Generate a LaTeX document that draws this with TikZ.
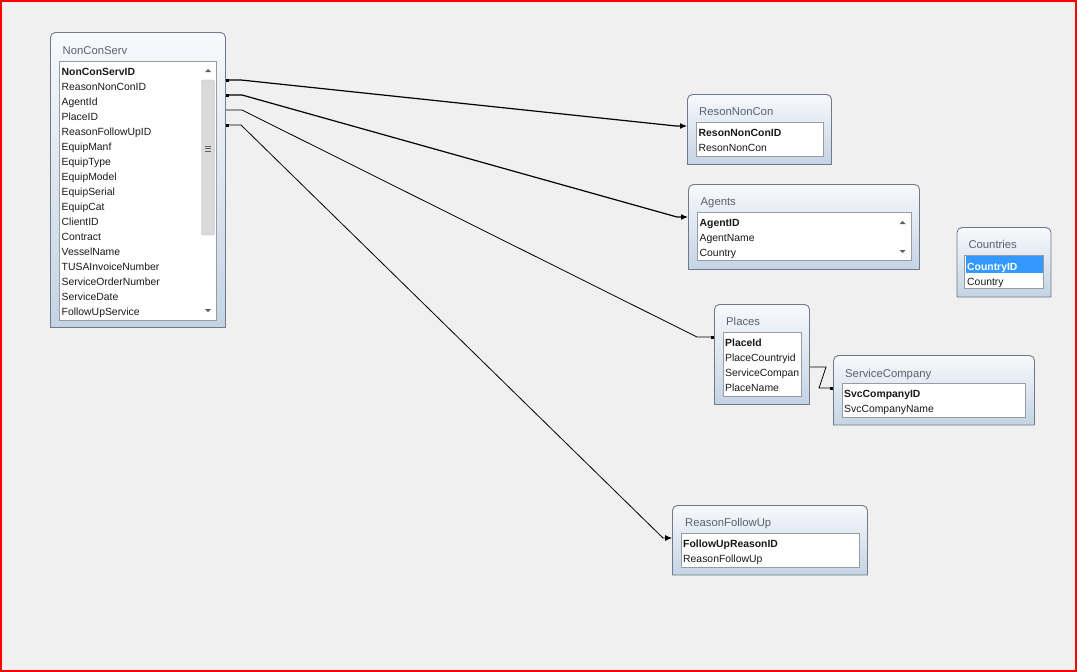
\documentclass[tikz,border=0pt]{standalone}
\usepackage{fontspec}
\setmainfont{Liberation Sans}
\usetikzlibrary{arrows.meta}

\definecolor{canvas}{RGB}{240,240,240}
\definecolor{frame}{RGB}{112,122,134}
\definecolor{headtop}{RGB}{247,249,252}
\definecolor{headbot}{RGB}{196,211,228}
\definecolor{titlegray}{RGB}{88,98,112}
\definecolor{listline}{RGB}{150,156,162}
\definecolor{selblue}{RGB}{51,153,255}
\definecolor{thumbgray}{RGB}{218,218,218}
\definecolor{arrowgray}{RGB}{95,95,95}

\begin{document}
\begin{tikzpicture}[x=1pt,y=-1pt,
  tbl/.style={draw=frame,line width=0.9,top color=headtop,bottom color=headbot},
  lst/.style={draw=listline,fill=white,line width=0.8},
  ttl/.style={anchor=base west,inner sep=0,text=titlegray,font=\fontsize{11.3}{13}\selectfont},
  fld/.style={anchor=base west,inner sep=0,text=black!90,font=\fontsize{10.4}{13}\selectfont},
  key/.style={fld,font=\fontsize{10.4}{13}\selectfont\bfseries},
  rel/.style={line width=1.2,{Square[length=3pt,width=3pt]}-{Latex[length=7pt,width=6pt]}},
  rellt/.style={rel,line width=0.8},
  scrl/.style={fill=arrowgray}]

\useasboundingbox (0,0) rectangle (1077,672);
%hintergrund
\fill[canvas] (0,0) rectangle (1077,672);
\draw[red,line width=2] (1,1) rectangle (1076,671);

%NonConServ
\draw[tbl] (50.5,327.5) [rounded corners=5] -- (50.5,32.5) -- (225.5,32.5) [sharp corners] -- (225.5,327.5) -- cycle;
\draw[lst] (59,61.5) rectangle (216.5,320);
\fill[white] (200.5,62) rectangle (216,319.5);
\draw[draw=listline!70,fill=thumbgray,rounded corners=2] (201.5,80) rectangle (214.5,235);
\draw[arrowgray] (205,146) -- (211,146) (205,148.5) -- (211,148.5) (205,151) -- (211,151);
\fill[scrl] (205,72) -- (211,72) -- (208,69) -- cycle;
\fill[scrl] (205,309) -- (211,309) -- (208,312) -- cycle;
\node[ttl] (ncs) at (62.5,54.5) {NonConServ};
\node[key] (ncs-0) at (61.5,75) {NonConServID};
\foreach \f [count=\i] in {ReasonNonConID,AgentId,PlaceID,ReasonFollowUpID,EquipManf,EquipType,EquipModel,EquipSerial,EquipCat,ClientID,Contract,VesselName,TUSAInvoiceNumber,ServiceOrderNumber,ServiceDate,FollowUpService}
  \node[fld] (ncs-\i) at (61.5,75+15*\i) {\f};

%ResonNonCon
\draw[tbl] (687.5,164.5) [rounded corners=5] -- (687.5,94.5) -- (831.5,94.5) [sharp corners] -- (831.5,164.5) -- cycle;
\draw[lst] (696,122.5) rectangle (823,156);
\node[ttl] (rnc) at (699,115.7) {ResonNonCon};
\node[key] (rnc-0) at (698.5,136.7) {ResonNonConID};
\node[fld] (rnc-1) at (698.5,151.7) {ResonNonCon};

%Agents
\draw[tbl] (688.5,269.5) [rounded corners=5] -- (688.5,184.5) -- (919.5,184.5) [sharp corners] -- (919.5,269.5) -- cycle;
\draw[lst] (697.5,212.5) rectangle (911,260.5);
\fill[scrl] (899.7,224) -- (905.7,224) -- (902.7,221) -- cycle;
\fill[scrl] (899.7,250) -- (905.7,250) -- (902.7,253) -- cycle;
\node[ttl] (agt) at (700.5,205.7) {Agents};
\node[key] (agt-0) at (699.5,226.7) {AgentID};
\node[fld] (agt-1) at (699.5,241.7) {AgentName};
\node[fld] (agt-2) at (699.5,256.7) {Country};

%Countries
\draw[tbl] (957,297) [rounded corners=5] -- (957,227.5) -- (1051,227.5) [sharp corners] -- (1051,297) -- cycle;
\draw[lst] (964.5,255) rectangle (1043.5,288.5);
\fill[selblue] (965.5,256) rectangle (1042.5,273.3);
\node[ttl] (cty) at (968.3,248.3) {Countries};
\node[key,text=white] (cty-0) at (967,270) {CountryID};
\node[fld] (cty-1) at (967,285) {Country};

%Places
\draw[tbl] (714.5,404.5) [rounded corners=5] -- (714.5,304.5) -- (809.5,304.5) [sharp corners] -- (809.5,404.5) -- cycle;
\draw[lst] (723,332.5) rectangle (801,396);
\node[ttl] (plc) at (726,325.7) {Places};
\node[key] (plc-0) at (725,346.7) {PlaceId};
\node[fld] (plc-1) at (725,361.7) {PlaceCountryid};
\node[fld] (plc-2) at (725,376.7) {ServiceCompan};
\node[fld] (plc-3) at (725,391.7) {PlaceName};

%ServiceCompany
\draw[tbl] (833.5,425) [rounded corners=5] -- (833.5,355.5) -- (1034.5,355.5) [sharp corners] -- (1034.5,425) -- cycle;
\draw[lst] (842,383.5) rectangle (1025.5,417);
\node[ttl] (svc) at (845,377.3) {ServiceCompany};
\node[key] (svc-0) at (844,397) {SvcCompanyID};
\node[fld] (svc-1) at (844,412) {SvcCompanyName};

%ReasonFollowUp
\draw[tbl] (672.5,575) [rounded corners=5] -- (672.5,505.5) -- (867.5,505.5) [sharp corners] -- (867.5,575) -- cycle;
\draw[lst] (681,533.5) rectangle (859,567);
\node[ttl] (rfu) at (685,526.7) {ReasonFollowUp};
\node[key] (rfu-0) at (683,547.3) {FollowUpReasonID};
\node[fld] (rfu-1) at (683,562) {ReasonFollowUp};

%anschlusspunkte
\coordinate (ncs-a) at (226,80);
\coordinate (ncs-b) at (226,95);
\coordinate (ncs-c) at (226,110);
\coordinate (ncs-d) at (226,125);
\coordinate (rnc-in) at (687,126);
\coordinate (agt-in) at (688,217);
\coordinate (plc-in) at (713.5,337);
\coordinate (rfu-in) at (672,538);
\coordinate (plc-out) at (810,367);
\coordinate (svc-in) at (833,388);

%beziehungen
\draw[rel] (ncs-a) -- ++(15,0) -- (676,126) -- (rnc-in);
\draw[rel] (ncs-b) -- ++(16,0) -- (677,217) -- (agt-in);
\draw[rellt,-{Square[length=3pt,width=3pt]}] (ncs-c) -- ++(16,0) -- (697,337) -- (plc-in);
\draw[rellt] (ncs-d) -- ++(15,0) -- (663,538) -- (rfu-in);
\draw[rellt,-{Square[length=3pt,width=3pt]}] (plc-out) -- (826,367) -- (819,388) -- (svc-in);

\end{tikzpicture}
\end{document}
